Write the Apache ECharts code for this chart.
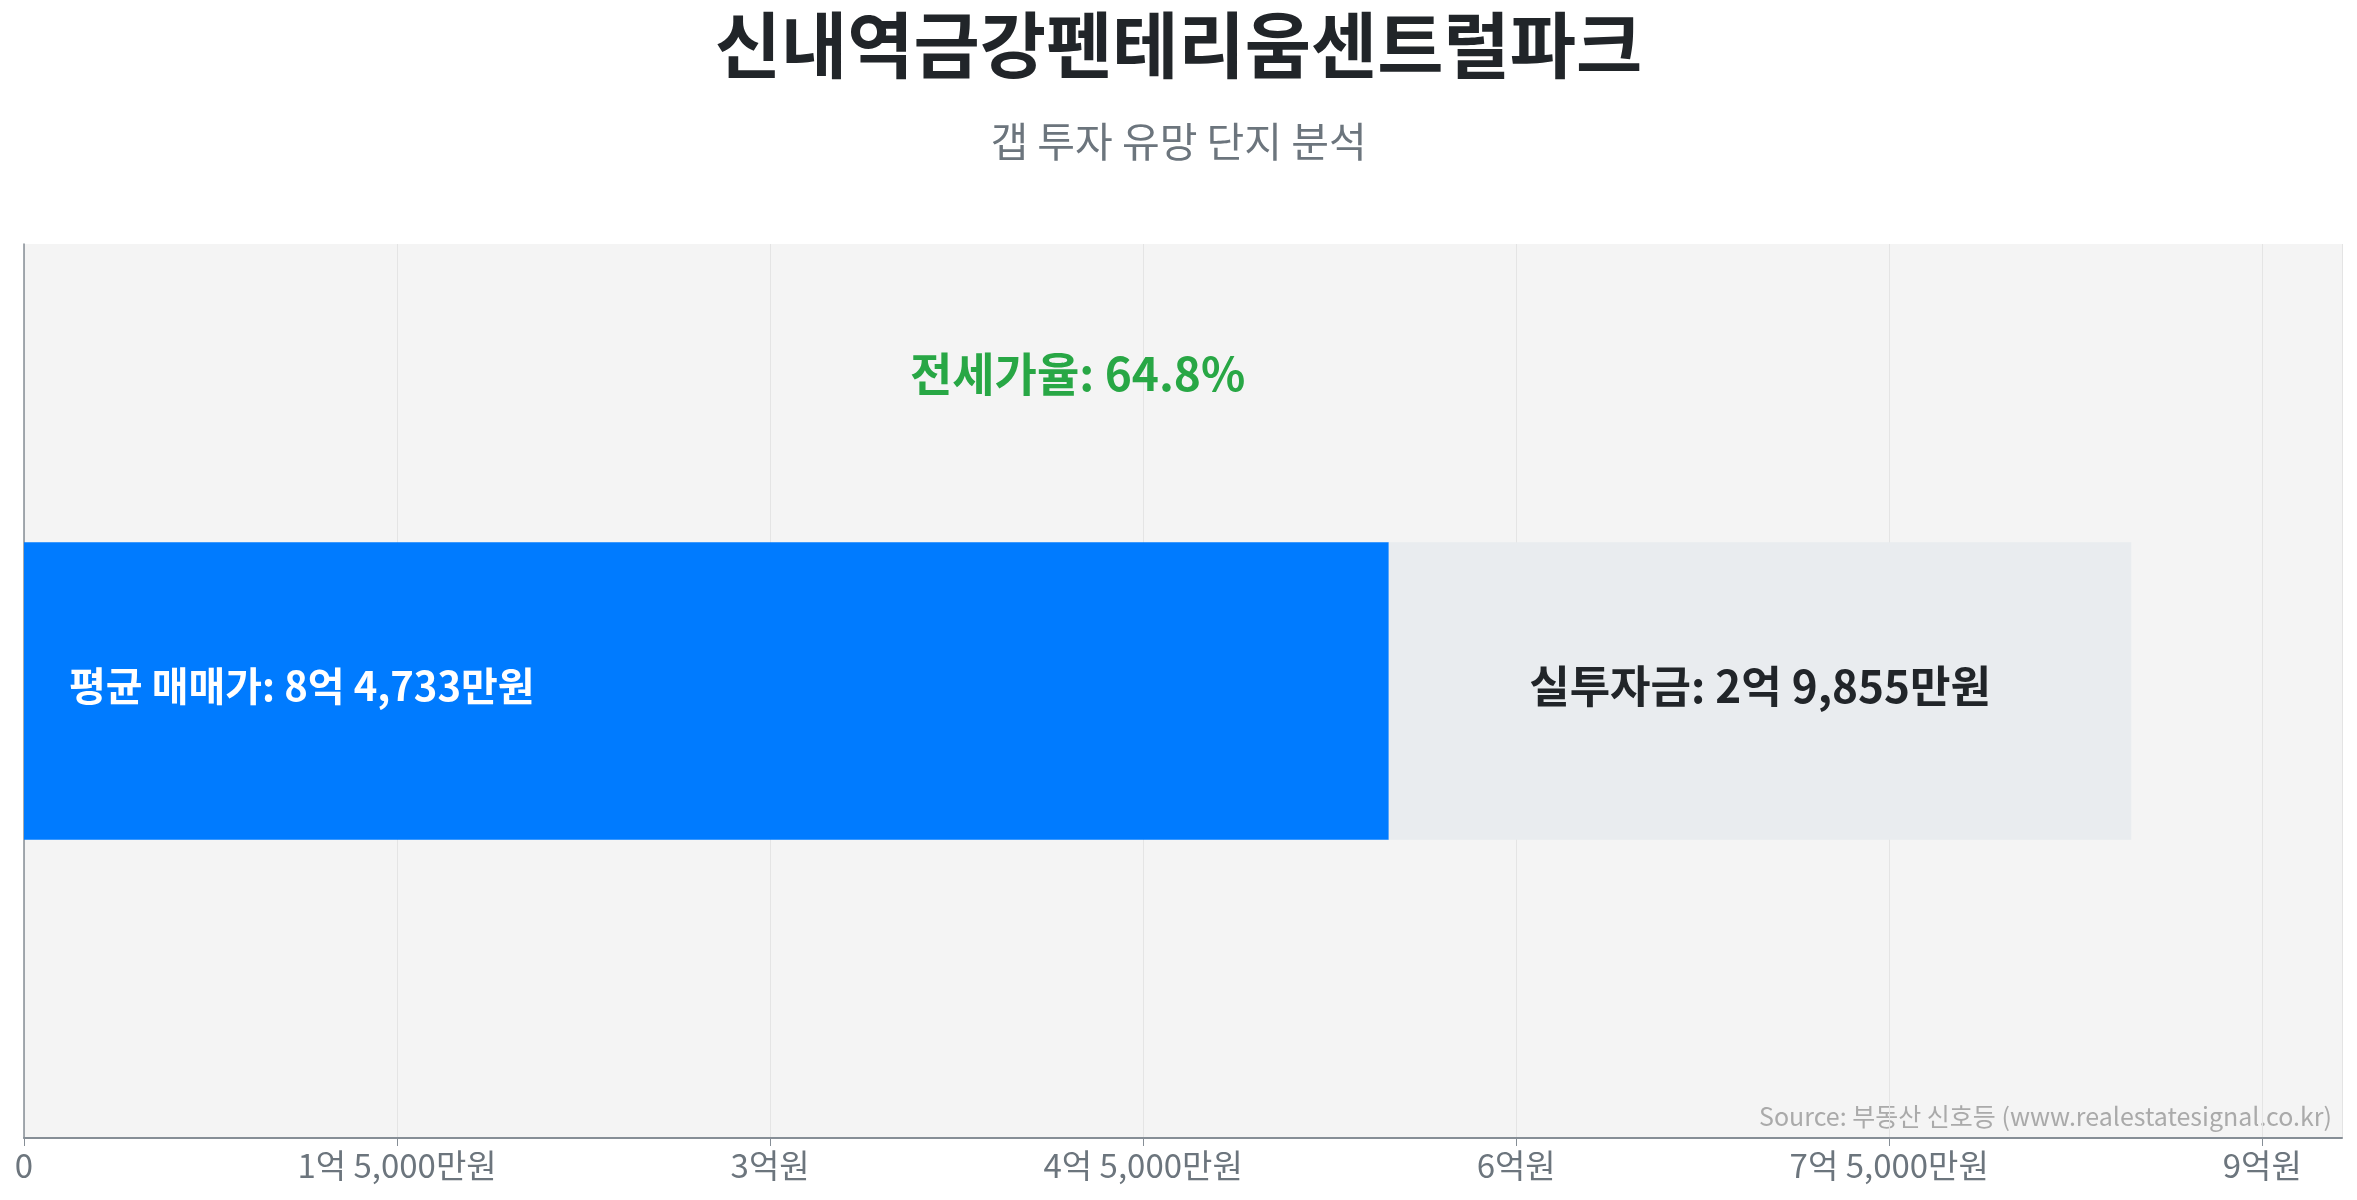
<!DOCTYPE html>
<html>
<head>
<meta charset="utf-8">
<script src="https://cdn.jsdelivr.net/npm/echarts@6/dist/echarts.min.js"></script>
<style>
html,body{margin:0;padding:0;background:#fff;}
#chart{width:2357px;height:1200px;}
</style>
</head>
<body>
<div id="chart"></div>
<script>
const categories = ['신내역금강펜테리움센트럴파크'];
const avgPrice = [847330000];      // 평균 매매가
const jeonsePrice = [548780000];   // 전세가
const investAmount = [298550000];  // 실투자금
const jeonseRatio = [64.8];        // 전세가율 (%)
const titleText = '신내역금강펜테리움센트럴파크';
const subtitleText = '갭 투자 유망 단지 분석';
const sourceText = 'Source: 부동산 신호등 (www.realestatesignal.co.kr)';

const FONT = '"Noto Sans CJK KR", "Noto Sans", sans-serif';

function fmtWon(v) {
  if (v === 0) return '0';
  const eok = Math.floor(v / 100000000);
  const man = Math.round((v % 100000000) / 10000);
  let s = '';
  if (eok > 0) s += eok + '억';
  if (man > 0) s += (s ? ' ' : '') + man.toLocaleString('en-US') + '만원';
  else s += '원';
  return s;
}

const chart = echarts.init(document.getElementById('chart'));
const option = {
  animation: false,
  backgroundColor: '#ffffff',
  title: {
    text: titleText,
    subtext: subtitleText,
    left: 'center',
    top: 2,
    itemGap: 36,
    textStyle: { fontFamily: FONT, fontSize: 72, fontWeight: 'bold', color: '#212529', lineHeight: 76 },
    subtextStyle: { fontFamily: FONT, fontSize: 41, color: '#6c757d', lineHeight: 44 }
  },
  graphic: [{
    type: 'text',
    right: 25,
    top: 1104,
    style: { text: sourceText, fill: '#aaaaaa', font: '25px ' + FONT }
  }],
  grid: {
    left: 24, right: 15, top: 244, bottom: 62,
    show: true, backgroundColor: '#f4f4f4', borderWidth: 0
  },
  xAxis: {
    type: 'value',
    min: 0,
    max: avgPrice[0] * 1.1,
    interval: 150000000,
    axisLine: { show: true, lineStyle: { color: '#868e96', width: 2 } },
    axisTick: { show: true, length: 8, lineStyle: { color: '#868e96', width: 1 } },
    axisLabel: {
      showMaxLabel: false,
      fontFamily: FONT, fontSize: 33, color: '#6c757d', margin: 11,
      formatter: v => (v % 150000000 === 0 ? fmtWon(v) : '')
    },
    splitLine: { show: true, lineStyle: { color: '#e4e4e4', width: 1 } }
  },
  yAxis: {
    type: 'category',
    data: categories,
    axisLine: { show: true, lineStyle: { color: '#868e96', width: 1.5 } },
    axisTick: { show: false },
    axisLabel: { show: false },
    splitLine: { show: false }
  },
  series: [
    {
      name: '전세가',
      type: 'bar',
      stack: 'total',
      barWidth: '33.3%',
      data: jeonsePrice,
      itemStyle: { color: '#007bff' },
      label: {
        show: true,
        position: 'insideLeft',
        distance: 45,
        offset: [0, -5],
        fontFamily: FONT, fontSize: 40, fontWeight: 'bold', color: '#ffffff',
        formatter: p => '평균 매매가: ' + fmtWon(avgPrice[p.dataIndex])
      },
      markPoint: {
        symbol: 'circle',
        symbolSize: 0,
        data: [{ coord: [avgPrice[0] / 2, categories[0]] }],
        label: {
          show: true,
          position: 'inside',
          offset: [0, -317],
          fontFamily: FONT, fontSize: 46, fontWeight: 'bold', color: '#28a745',
          formatter: () => '전세가율: ' + jeonseRatio[0] + '%'
        }
      }
    },
    {
      name: '실투자금',
      type: 'bar',
      stack: 'total',
      data: investAmount,
      itemStyle: { color: '#e9ecef' },
      label: {
        show: true,
        position: 'inside',
        offset: [0, -5],
        fontFamily: FONT, fontSize: 44, fontWeight: 'bold', color: '#212529',
        formatter: p => '실투자금: ' + fmtWon(investAmount[p.dataIndex])
      }
    }
  ]
};
chart.setOption(option);
</script>
</body>
</html>
